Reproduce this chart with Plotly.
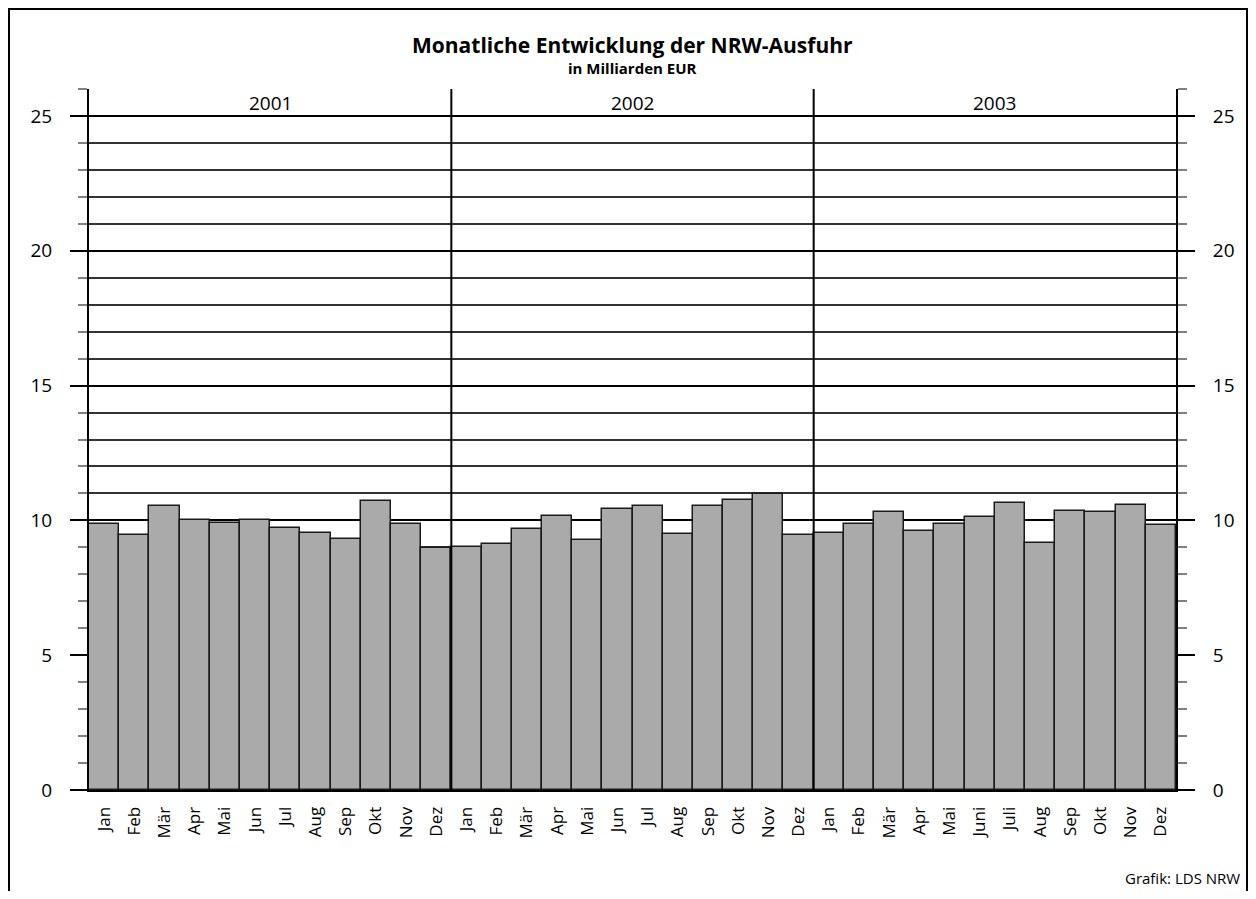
import plotly.graph_objects as go

months_std = ["Jan", "Feb", "Mär", "Apr", "Mai", "Jun", "Jul", "Aug", "Sep", "Okt", "Nov", "Dez"]
months_2003 = ["Jan", "Feb", "Mär", "Apr", "Mai", "Juni", "Juli", "Aug", "Sep", "Okt", "Nov", "Dez"]
years = ["2001", "2002", "2003"]

values_2001 = [9.85, 9.47, 10.53, 10.03, 9.92, 10.03, 9.73, 9.55, 9.30, 10.71, 9.88, 8.99]
values_2002 = [9.02, 9.11, 9.68, 10.15, 9.29, 10.42, 10.52, 9.48, 10.53, 10.76, 10.98, 9.46]
values_2003 = [9.52, 9.85, 10.30, 9.62, 9.85, 10.13, 10.63, 9.16, 10.36, 10.32, 10.58, 9.83]

labels = months_std + months_std + months_2003
values = values_2001 + values_2002 + values_2003
xpos = list(range(len(values)))

FONT = "Open Sans"
W, H = 1240, 883
L, R, T, B = 81, 72, 81, 101
pw, ph = W - L - R, H - T - B

def px(x):
    return (x - L) / pw

def py(y):
    return (H - B - y) / ph

fig = go.Figure()
fig.add_trace(go.Bar(
    x=xpos, y=values,
    marker=dict(color="#aaaaaa", line=dict(color="#1a1a1a", width=1.5)),
    hoverinfo="y", showlegend=False,
))
# invisible trace to anchor the right axis
fig.add_trace(go.Scatter(x=[0], y=[0], yaxis="y2", mode="markers",
                         marker=dict(opacity=0), hoverinfo="skip", showlegend=False))

yaxis_common = dict(
    range=[0, 26], tickmode="linear", tick0=0, dtick=5,
    ticks="outside", ticklen=17, tickwidth=2, tickcolor="black",
    tickfont=dict(family=FONT, size=19, color="black"),
    showline=True, linecolor="black", linewidth=2,
    zeroline=False, fixedrange=True,
)

fig.update_layout(
    width=W, height=H,
    margin=dict(l=L, r=R, t=T, b=B),
    paper_bgcolor="white", plot_bgcolor="white",
    bargap=0,
    xaxis=dict(
        range=[-0.5, len(values) - 0.5],
        tickvals=xpos, ticktext=labels, tickangle=-90,
        tickfont=dict(family=FONT, size=17, color="black"),
        showgrid=False, zeroline=False, showline=True, linecolor="black", linewidth=2,
        ticks="outside", ticklen=8, tickcolor="rgba(0,0,0,0)", fixedrange=True,
    ),
    yaxis=dict(
        **yaxis_common,
        side="left",
        showgrid=True, gridcolor="black", gridwidth=2,
        ticklabelstandoff=14,
        minor=dict(dtick=1, ticks="outside", ticklen=9, tickwidth=2, tickcolor="#808080",
                   showgrid=True, gridcolor="#333333", gridwidth=1.5),
    ),
    yaxis2=dict(
        **yaxis_common,
        side="right", overlaying="y",
        showgrid=False,
        ticklabelstandoff=14,
        minor=dict(dtick=1, ticks="outside", ticklen=9, tickwidth=2, tickcolor="#808080",
                   showgrid=False),
    ),
)

# year separators
for sep in [11.5, 23.5]:
    fig.add_shape(type="line", xref="x", yref="y", x0=sep, x1=sep, y0=0, y1=26,
                  line=dict(color="black", width=2), layer="above")

# year labels
for i, yr in enumerate(years):
    fig.add_annotation(x=i * 12 + 5.5, y=25.48, xref="x", yref="y", text=yr,
                       xanchor="center", yanchor="middle",
                       showarrow=False, font=dict(family=FONT, size=19, color="black"))

# title and subtitle
fig.add_annotation(x=0.5, y=py(37), xref="paper", yref="paper",
                   xanchor="center", yanchor="middle",
                   text="<b>Monatliche Entwicklung der NRW-Ausfuhr</b>", showarrow=False,
                   font=dict(family=FONT, size=21, color="black"))
fig.add_annotation(x=0.5, y=py(60), xref="paper", yref="paper",
                   xanchor="center", yanchor="middle",
                   text="<b>in Milliarden EUR</b>", showarrow=False,
                   font=dict(family=FONT, size=15, color="black"))

# source
fig.add_annotation(x=px(1234), y=py(870), xref="paper", yref="paper",
                   xanchor="right", yanchor="middle",
                   text="Grafik: LDS NRW", showarrow=False,
                   font=dict(family=FONT, size=15, color="black"))

# outer frame
fig.add_shape(type="rect", xref="paper", yref="paper",
              x0=px(1), x1=px(W - 1), y0=py(H + 20), y1=py(1),
              line=dict(color="black", width=2), fillcolor="rgba(0,0,0,0)", layer="above")

fig.write_html("out.html")
